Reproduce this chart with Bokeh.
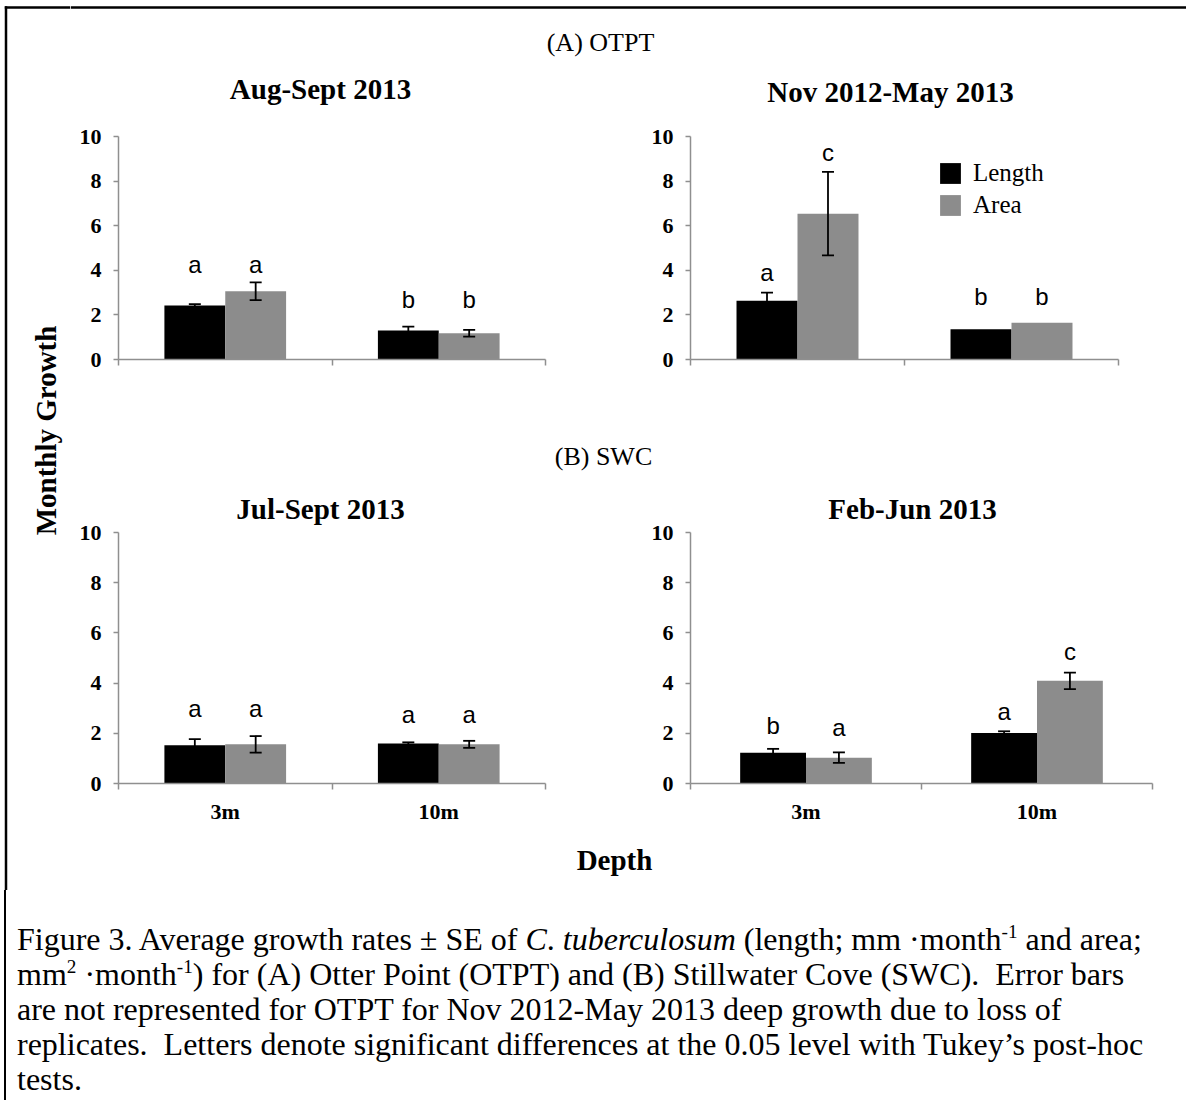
import numpy as np
from bokeh.plotting import figure
from bokeh.layouts import row, column
from bokeh.models import (Range1d, FixedTicker, Whisker, TeeHead, ColumnDataSource,
                          Legend, LegendItem, Div)
from bokeh.core.properties import value
from bokeh.embed import file_html
from bokeh.resources import INLINE

# ---------------- data ----------------
depths = ["3m", "10m"]
y_ticks = [0, 2, 4, 6, 8, 10]
series_names = ["Length", "Area"]
section_titles = ["(A) OTPT", "(B) SWC"]
panel_titles = ["Aug-Sept 2013", "Nov 2012-May 2013", "Jul-Sept 2013", "Feb-Jun 2013"]

# (A) OTPT, Aug-Sept 2013
otpt_aug_length = [2.42, 1.30]
otpt_aug_length_se = [0.06, 0.17]
otpt_aug_area = [3.06, 1.18]
otpt_aug_area_se = [0.40, 0.15]
otpt_aug_length_letters = ["a", "b"]
otpt_aug_area_letters = ["a", "b"]
otpt_aug_length_letter_y = [3.92, 2.35]
otpt_aug_area_letter_y = [3.92, 2.35]

# (A) OTPT, Nov 2012-May 2013 (no SE for the deep site)
otpt_nov_length = [2.64, 1.36]
otpt_nov_length_se = [0.36, None]
otpt_nov_area = [6.54, 1.65]
otpt_nov_area_se = [1.87, None]
otpt_nov_length_letters = ["a", "b"]
otpt_nov_area_letters = ["c", "b"]
otpt_nov_length_letter_y = [3.58, 2.49]
otpt_nov_area_letter_y = [8.94, 2.49]

# (B) SWC, Jul-Sept 2013
swc_jul_length = [1.52, 1.59]
swc_jul_length_se = [0.25, 0.05]
swc_jul_area = [1.56, 1.56]
swc_jul_area_se = [0.33, 0.14]
swc_jul_length_letters = ["a", "a"]
swc_jul_area_letters = ["a", "a"]
swc_jul_length_letter_y = [2.69, 2.45]
swc_jul_area_letter_y = [2.69, 2.45]

# (B) SWC, Feb-Jun 2013
swc_feb_length = [1.23, 2.01]
swc_feb_length_se = [0.15, 0.07]
swc_feb_area = [1.03, 4.09]
swc_feb_area_se = [0.21, 0.33]
swc_feb_length_letters = ["b", "a"]
swc_feb_area_letters = ["a", "c"]
swc_feb_length_letter_y = [2.01, 2.58]
swc_feb_area_letter_y = [1.92, 4.97]

# ---------------- styling ----------------
SERIF = "Liberation Serif"
SANS = "Liberation Sans"
AXIS_COLOR = "#8f8f8f"
BLACK = "#000000"
GREY = "#8c8c8c"
BAR_W = 0.285
BASELINE_FIX = 0.31   # svg text sits this many em below the requested baseline
Y_MAX = 10


class TextFig:
    """A figure whose frame fills its canvas; text is placed in page pixels."""

    def __init__(self, x0, y0, width, height):
        self.x0, self.y0, self.h = x0, y0, height
        f = figure(width=width, height=height, x_range=Range1d(0, width), y_range=Range1d(0, height),
                   output_backend="svg", toolbar_location=None, tools="",
                   x_axis_type=None, y_axis_type=None,
                   min_border_left=0, min_border_right=0, min_border_top=0, min_border_bottom=0)
        f.outline_line_color = None
        f.grid.visible = False
        self.fig = f

    def X(self, px):
        return px - self.x0

    def Y(self, py):
        return self.h - (py - self.y0)

    def text(self, px, py, txt, size, bold=False, angle=0.0, baseline="alphabetic"):
        if baseline == "alphabetic":
            py = py - BASELINE_FIX * size
        self.fig.text(x=[self.X(px)], y=[self.Y(py)], text=[txt], angle=angle,
                      text_font=value(SERIF), text_font_style="bold" if bold else "normal",
                      text_font_size=f"{size}px", text_color=BLACK,
                      text_align="center", text_baseline=baseline)

    def hline(self, py, px0, px1):
        self.fig.segment(x0=[self.X(px0)], y0=[self.Y(py)], x1=[self.X(px1)], y1=[self.Y(py)],
                         line_color=BLACK, line_width=2.5)

    def vline(self, px, py0, py1):
        self.fig.segment(x0=[self.X(px)], y0=[self.Y(py0)], x1=[self.X(px)], y1=[self.Y(py1)],
                         line_color=BLACK, line_width=2.5)


def panel(length, length_se, area, area_se, len_letters, area_letters, len_ly, area_ly,
          canvas, frame, show_x_labels, title=None, with_legend=False):
    """canvas = (x0, y0, x1, y1) page px of the figure; frame = (left, right, top of 10, bottom 0)."""
    cx0, cy0, cx1, cy1 = canvas
    fl, fr, f10, f0 = frame
    px_per_unit = (f0 - f10) / Y_MAX
    frame_top = f10 if title is None else cy0 + 2
    y_top = (f0 - frame_top) / px_per_unit
    p = figure(width=cx1 - cx0, height=cy1 - cy0, x_range=Range1d(0, 2), y_range=Range1d(0, y_top),
               output_backend="svg", toolbar_location=None, tools="",
               min_border_left=fl - cx0, min_border_right=cx1 - fr,
               min_border_top=frame_top - cy0, min_border_bottom=cy1 - f0)
    p.outline_line_color = None
    p.grid.visible = False

    centers = np.arange(len(depths)) + 0.5
    x_len = list(centers - BAR_W / 2)
    x_area = list(centers + BAR_W / 2)

    r_len = p.vbar(x=x_len, top=length, bottom=0, width=BAR_W, fill_color=BLACK, line_color=None)
    r_area = p.vbar(x=x_area, top=area, bottom=0, width=BAR_W, fill_color=GREY, line_color=None)

    base, upper, lower = [], [], []
    for xs, vals, ses in ((x_len, length, length_se), (x_area, area, area_se)):
        for x, v, s in zip(xs, vals, ses):
            if s is None:
                continue
            base.append(x)
            upper.append(v + s)
            lower.append(v - s)
    esrc = ColumnDataSource(dict(base=base, upper=upper, lower=lower))
    wh = Whisker(source=esrc, base="base", upper="upper", lower="lower", dimension="height",
                 line_color=BLACK, line_width=1.8,
                 upper_head=TeeHead(size=12, line_width=1.8, line_color=BLACK),
                 lower_head=TeeHead(size=12, line_width=1.8, line_color=BLACK),
                 level="overlay")
    p.add_layout(wh)

    letter_size = 24
    fix = BASELINE_FIX * letter_size / px_per_unit
    p.text(x=x_len + x_area, y=[v + fix for v in list(len_ly) + list(area_ly)],
           text=list(len_letters) + list(area_letters),
           text_font=value(SANS), text_font_size=f"{letter_size}px", text_color=BLACK,
           text_align="center", text_baseline="alphabetic")

    if title is not None:
        ttext, tcx, tbase, tsize = title
        p.text(x=[2 * (tcx - fl) / (fr - fl)],
               y=[(f0 - tbase) / px_per_unit + BASELINE_FIX * tsize / px_per_unit],
               text=[ttext], text_font=value(SERIF), text_font_style="bold",
               text_font_size=f"{tsize}px", text_color=BLACK,
               text_align="center", text_baseline="alphabetic")

    xa = p.xaxis[0]
    if show_x_labels:
        xa.ticker = FixedTicker(ticks=[0.5, 1.5], minor_ticks=[0, 1, 2])
        xa.major_label_overrides = {0.5: depths[0], 1.5: depths[1]}
    else:
        xa.ticker = FixedTicker(ticks=[], minor_ticks=[0, 1, 2])
    xa.bounds = (0, 2)
    xa.major_tick_out = 0
    xa.major_tick_in = 0
    xa.minor_tick_out = 6
    xa.minor_tick_in = 0
    xa.axis_line_color = AXIS_COLOR
    xa.axis_line_width = 1.5
    xa.minor_tick_line_color = AXIS_COLOR
    xa.minor_tick_line_width = 1.5
    xa.major_label_text_font = SERIF
    xa.major_label_text_font_style = "bold"
    xa.major_label_text_font_size = "22px"
    xa.major_label_text_color = BLACK
    xa.major_label_standoff = 9

    ya = p.yaxis[0]
    ya.ticker = FixedTicker(ticks=y_ticks, minor_ticks=[])
    ya.bounds = (0, Y_MAX)
    ya.major_tick_out = 5
    ya.major_tick_in = 0
    ya.minor_tick_out = 0
    ya.minor_tick_in = 0
    ya.axis_line_color = AXIS_COLOR
    ya.axis_line_width = 1.5
    ya.major_tick_line_color = AXIS_COLOR
    ya.major_tick_line_width = 1.5
    ya.major_label_standoff = 12
    ya.major_label_text_font = SERIF
    ya.major_label_text_font_style = "bold"
    ya.major_label_text_font_size = "22px"
    ya.major_label_text_color = BLACK

    if with_legend:
        lg = Legend(items=[LegendItem(label=series_names[0], renderers=[r_len]),
                           LegendItem(label=series_names[1], renderers=[r_area])],
                    location=(247, 140), orientation="vertical",
                    glyph_width=26, glyph_height=26, label_height=26, spacing=4,
                    padding=0, margin=0, label_standoff=10,
                    label_text_font=SERIF, label_text_font_size="25px", label_text_color=BLACK,
                    border_line_color=None, background_fill_alpha=0)
        p.add_layout(lg)
    return p


# ---------------- layout (page pixels) ----------------
X_SPLIT, X_MID, X_END = 70, 600, 1186
Y_ROW1, Y_HDRB, Y_ROW2, Y_DEPTH, Y_CAP, Y_END = 112, 400, 490, 840, 890, 1100

left = TextFig(0, 0, X_SPLIT, Y_CAP)
left.vline(5.5, 5.8, Y_CAP)
left.hline(7, 4.3, X_SPLIT)
left.text(45, 430, "Monthly Growth", 29, bold=True, angle=np.pi / 2, baseline="middle")

hdr_a = TextFig(X_SPLIT, 0, X_END - X_SPLIT, Y_ROW1)
hdr_a.hline(7, X_SPLIT, X_END)
hdr_a.text(600, 50, section_titles[0], 26)
hdr_a.text(320, 97, panel_titles[0], 29, bold=True)
hdr_a.text(890, 100, panel_titles[1], 29, bold=True)

p1 = panel(otpt_aug_length, otpt_aug_length_se, otpt_aug_area, otpt_aug_area_se,
           otpt_aug_length_letters, otpt_aug_area_letters,
           otpt_aug_length_letter_y, otpt_aug_area_letter_y,
           (X_SPLIT, Y_ROW1, X_MID, Y_HDRB), (118, 545, 136, 359), False)
p2 = panel(otpt_nov_length, otpt_nov_length_se, otpt_nov_area, otpt_nov_area_se,
           otpt_nov_length_letters, otpt_nov_area_letters,
           otpt_nov_length_letter_y, otpt_nov_area_letter_y,
           (X_MID, Y_ROW1, X_END, Y_HDRB), (690, 1118, 132, 361), False, with_legend=True)

hdr_b = TextFig(X_SPLIT, Y_HDRB, X_END - X_SPLIT, Y_ROW2 - Y_HDRB)
hdr_b.text(603, 464, section_titles[1], 26)

p3 = panel(swc_jul_length, swc_jul_length_se, swc_jul_area, swc_jul_area_se,
           swc_jul_length_letters, swc_jul_area_letters,
           swc_jul_length_letter_y, swc_jul_area_letter_y,
           (X_SPLIT, Y_ROW2, X_MID, Y_DEPTH), (118, 545, 532, 783), True,
           title=(panel_titles[2], 320, 517, 29))
p4 = panel(swc_feb_length, swc_feb_length_se, swc_feb_area, swc_feb_area_se,
           swc_feb_length_letters, swc_feb_area_letters,
           swc_feb_length_letter_y, swc_feb_area_letter_y,
           (X_MID, Y_ROW2, X_END, Y_DEPTH), (690, 1152, 532, 783), True,
           title=(panel_titles[3], 912, 517, 29))

depth_fig = TextFig(X_SPLIT, Y_DEPTH, X_END - X_SPLIT, Y_CAP - Y_DEPTH)
depth_fig.text(614, 868, "Depth", 29, bold=True)

sup = '<sup style="font-size:0.6em;line-height:0;">'
caption_html = (
    f'<div style="margin-left:4px;border-left:2.5px solid black;height:{Y_END - Y_CAP}px;'
    'box-sizing:border-box;padding:32px 0 0 11px;font-family:\'Liberation Serif\';'
    'font-size:32px;line-height:35px;white-space:nowrap;color:black;">'
    'Figure 3. Average growth rates &plusmn; SE of <i>C</i>. <i>tuberculosum</i> '
    '(length; mm &middot;month' + sup + '-1</sup> and area;<br>'
    'mm' + sup + '2</sup> &middot;month' + sup + '-1</sup>) for (A) Otter Point (OTPT) and '
    '(B) Stillwater Cove (SWC).&nbsp; Error bars<br>'
    'are not represented for OTPT for Nov 2012-May 2013 deep growth due to loss of<br>'
    'replicates.&nbsp; Letters denote significant differences at the 0.05 level with '
    'Tukey&rsquo;s post-hoc<br>'
    'tests.</div>'
)
caption = Div(text=caption_html, width=X_END, height=Y_END - Y_CAP, margin=(0, 0, 0, 0))

right = column(hdr_a.fig, row(p1, p2), hdr_b.fig, row(p3, p4), depth_fig.fig)
layout = column(row(left.fig, right), caption)

open("out.html", "w").write(file_html(layout, INLINE))
